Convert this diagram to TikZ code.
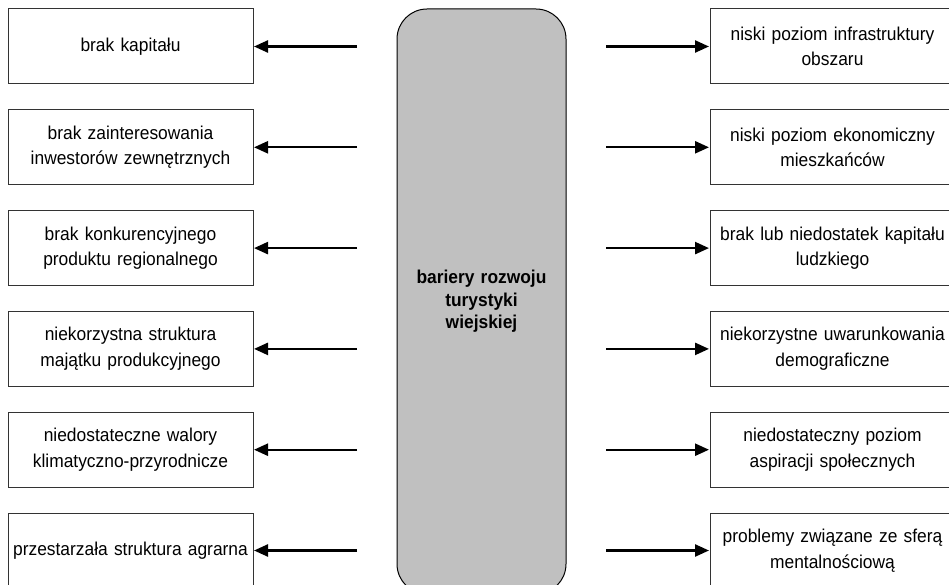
\documentclass[tikz,border=0pt]{standalone}
\usepackage{fontspec}
\setmainfont[FakeStretch=0.935]{Liberation Sans}
\usetikzlibrary{arrows.meta}
\begin{document}
\begin{tikzpicture}[x=1pt,y=-1pt,
  box/.style={draw=black!80, line width=1pt, fill=white, minimum width=245pt, minimum height=75pt,
    inner sep=0pt, align=center, text width=240pt, font=\fontsize{18.6}{25.5}\selectfont},
  center/.style={draw=black, line width=1pt, fill={rgb,255:red,192;green,192;blue,192}, rounded corners=30pt,
    minimum width=169pt, minimum height=585pt, inner sep=0pt, align=center, text width=160pt,
    font=\fontsize{18.6}{22.5}\selectfont\bfseries},
  arr/.style={-{Triangle[length=14pt,width=12pt]}, line width=2.4pt, shorten >=0.5pt}
]
\useasboundingbox (0,0) rectangle (949,585);
\clip (0,0) rectangle (949,585);
\node[center] (c) at (481.5,301.5) {bariery rozwoju\\turystyki\\wiejskiej};
\foreach \i/\t in {0/{brak kapitału},
                   1/{brak zainteresowania\\inwestorów zewnętrznych},
                   2/{brak konkurencyjnego\\produktu regionalnego},
                   3/{niekorzystna struktura\\majątku produkcyjnego},
                   4/{niedostateczne walory\\klimatyczno-przyrodnicze},
                   5/{przestarzała struktura agrarna}} {
  \node[box] (l\i) at (130.5,{46.5+100.8*\i}) {\t};
  \coordinate (la\i) at (357,{46.5+100.8*\i});
  \draw[arr] (la\i) -- (l\i.east);
}
\foreach \i/\t in {0/{niski poziom infrastruktury\\obszaru},
                   1/{niski poziom ekonomiczny\\mieszkańców},
                   2/{brak lub niedostatek kapitału\\ludzkiego},
                   3/{niekorzystne uwarunkowania\\demograficzne},
                   4/{niedostateczny poziom\\aspiracji społecznych},
                   5/{problemy związane ze sferą\\mentalnościową}} {
  \node[box] (r\i) at (832.5,{46.5+100.8*\i}) {\t};
  \coordinate (ra\i) at (606,{46.5+100.8*\i});
  \draw[arr] (ra\i) -- (r\i.west);
}
\end{tikzpicture}
\end{document}
